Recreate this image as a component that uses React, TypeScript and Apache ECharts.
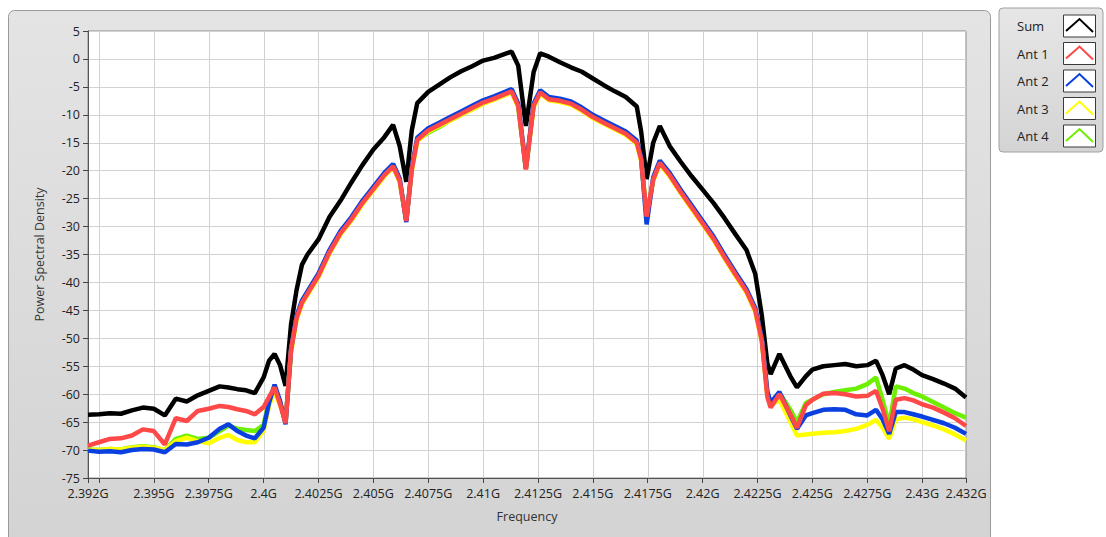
import React, { useEffect, useRef } from "react";
import * as echarts from "echarts";

// Frequency in MHz
const freqMHz = [
  2392, 2392.5, 2393, 2393.5, 2394, 2394.5, 2395, 2395.5, 2396, 2396.5, 2397, 2397.5, 2398, 2398.4, 2398.8, 2399.2, 2399.6, 2400, 2400.25, 2400.5, 2400.75, 2401, 2401.25,
  2401.5, 2401.75, 2402, 2402.5, 2403, 2403.5, 2404, 2404.5, 2405, 2405.5, 2405.9, 2406.2, 2406.5, 2406.75, 2407, 2407.5, 2408, 2408.5, 2409, 2409.5, 2410, 2410.5, 2411, 2411.3, 2411.6, 2411.95, 2412.3, 2412.6, 2413, 2413.5, 2414, 2414.5, 2415, 2415.5, 2416, 2416.5, 2417, 2417.2, 2417.45, 2417.75, 2418.05, 2418.5, 2419, 2419.5, 2420, 2420.5, 2421, 2421.5, 2422, 2422.4, 2422.7,
  2422.95, 2423.1, 2423.5, 2424, 2424.3, 2424.7, 2425, 2425.5, 2426, 2426.5, 2427, 2427.5, 2427.9, 2428.2, 2428.5, 2428.8, 2429.2, 2429.6, 2430, 2430.5, 2431, 2431.5, 2432,
];

const sumPSD = [
  -63.7, -63.6, -63.4, -63.5, -62.9, -62.4, -62.6, -63.8, -60.8, -61.3, -60.2, -59.4, -58.6, -58.8, -59.1, -59.3, -59.8, -57.0, -54.0, -52.8, -54.8, -58.5, -47.5,
  -41.4, -36.8, -35.0, -32.3, -28.3, -25.4, -22.1, -19.0, -16.2, -14.0, -11.8, -15.6, -22.0, -12.8, -7.9, -5.9, -4.6, -3.3, -2.2, -1.3, -0.3, 0.2, 0.9, 1.3, -1.2, -12.0, -2.4, 1.0, 0.4, -0.6, -1.5, -2.3, -3.5, -4.7, -5.8, -6.8, -8.5, -13.0, -21.5, -15.0, -12.0, -15.6, -18.4, -21.0, -23.4, -25.8, -28.5, -31.4, -34.2, -38.5, -46.0,
  -54.5, -56.4, -52.8, -56.8, -58.8, -56.8, -55.6, -55.0, -54.8, -54.6, -55.0, -54.8, -54.0, -56.6, -60.0, -55.4, -54.8, -55.6, -56.6, -57.3, -58.1, -59.0, -60.6,
];

const ant1PSD = [
  -69.2, -68.6, -68.0, -67.9, -67.4, -66.3, -66.6, -69.0, -64.3, -64.8, -63.0, -62.6, -62.1, -62.3, -62.7, -63.0, -63.6, -62.3, -60.5, -58.8, -61.8, -65.2, -52.0,
  -46.4, -43.6, -42.0, -38.8, -34.6, -31.2, -28.7, -25.8, -23.3, -20.8, -19.2, -21.8, -29.0, -19.8, -14.5, -12.8, -11.8, -10.8, -9.8, -8.8, -7.8, -7.1, -6.3, -5.8, -8.4, -19.8, -8.4, -6.0, -7.2, -7.5, -8.0, -9.1, -10.4, -11.4, -12.4, -13.4, -15.0, -18.0, -28.2, -21.6, -18.6, -20.8, -23.8, -26.6, -29.4, -32.2, -35.5, -38.6, -41.6, -45.0, -50.5,
  -60.5, -62.4, -60.0, -63.6, -66.0, -62.0, -61.0, -59.9, -59.8, -60.0, -60.4, -60.3, -59.4, -62.6, -66.6, -61.0, -60.7, -61.1, -61.8, -62.4, -63.3, -64.3, -65.7,
];

const ant2PSD = [
  -70.1, -70.3, -70.2, -70.4, -70.0, -69.8, -69.9, -70.4, -68.9, -69.0, -68.6, -67.8, -66.2, -65.4, -66.6, -67.4, -67.9, -66.0, -61.5, -58.3, -61.2, -65.4, -52.0,
  -46.0, -43.2, -41.6, -38.4, -34.2, -30.8, -28.3, -25.4, -22.9, -20.4, -18.8, -21.4, -29.2, -19.4, -14.1, -12.4, -11.4, -10.4, -9.4, -8.4, -7.4, -6.7, -5.9, -5.4, -8.0, -19.6, -8.0, -5.6, -6.8, -7.1, -7.6, -8.7, -10.0, -11.0, -12.0, -13.0, -14.6, -17.6, -29.6, -21.2, -18.2, -20.4, -23.4, -26.2, -29.0, -31.8, -35.1, -38.2, -41.2, -44.6, -50.0,
  -59.5, -61.5, -59.6, -63.8, -66.2, -63.8, -63.4, -62.8, -62.7, -62.8, -63.6, -63.8, -62.8, -64.5, -67.1, -63.2, -63.2, -63.6, -64.0, -64.6, -65.2, -66.0, -67.1,
];

const ant3PSD = [
  -70.0, -70.0, -69.8, -69.9, -69.6, -69.4, -69.6, -70.0, -68.4, -67.8, -68.4, -68.8, -67.8, -67.3, -68.2, -68.6, -68.6, -66.5, -62.0, -59.5, -62.0, -65.0, -52.5,
  -46.6, -43.8, -42.2, -39.0, -34.8, -31.4, -28.9, -26.0, -23.5, -21.0, -19.4, -22.0, -28.8, -20.0, -14.7, -13.0, -12.0, -11.0, -10.0, -9.0, -8.0, -7.3, -6.5, -6.0, -8.6, -19.6, -8.6, -6.2, -7.4, -7.7, -8.2, -9.3, -10.6, -11.6, -12.6, -13.6, -15.2, -18.2, -28.0, -21.8, -18.8, -21.0, -24.0, -26.8, -29.6, -32.4, -35.7, -38.8, -41.8, -45.2, -50.6,
  -60.2, -62.0, -61.0, -65.0, -67.4, -67.2, -67.1, -66.9, -66.8, -66.6, -66.2, -65.5, -64.6, -66.0, -68.0, -64.5, -64.2, -64.5, -65.0, -65.6, -66.3, -67.2, -68.3,
];

const ant4PSD = [
  -69.9, -70.0, -69.8, -69.9, -69.5, -69.3, -69.5, -70.0, -68.0, -67.4, -68.0, -67.8, -66.6, -65.6, -66.2, -66.4, -66.6, -65.5, -61.0, -58.6, -61.5, -65.0, -52.2,
  -46.5, -43.7, -42.1, -38.9, -34.7, -31.3, -28.8, -25.9, -23.4, -20.9, -19.3, -21.9, -28.9, -19.9, -14.6, -13.2, -12.2, -11.0, -10.0, -9.0, -8.0, -7.2, -6.4, -5.9, -8.5, -19.7, -8.5, -6.1, -7.3, -7.6, -8.1, -9.2, -10.5, -11.5, -12.5, -13.5, -15.1, -18.1, -28.1, -21.7, -18.7, -20.9, -23.9, -26.7, -29.5, -32.3, -35.6, -38.7, -41.7, -45.1, -50.4,
  -60.0, -61.8, -59.8, -62.8, -65.0, -61.6, -61.0, -60.0, -59.6, -59.3, -59.0, -58.2, -57.0, -61.0, -65.5, -58.6, -59.0, -59.8, -60.4, -61.4, -62.4, -63.4, -64.2,
];

const xMin = 2392;
const xMax = 2432;
const xTickValues = [2392, 2392.5, 2395, 2397.5, 2400, 2402.5, 2405, 2407.5, 2410, 2412.5, 2415, 2417.5, 2420, 2422.5, 2425, 2427.5, 2430, 2432];
const xLabelValues = [2392, 2395, 2397.5, 2400, 2402.5, 2405, 2407.5, 2410, 2412.5, 2415, 2417.5, 2420, 2422.5, 2425, 2427.5, 2430, 2432];
const xGridValues = [2392.5, 2395, 2397.5, 2400, 2402.5, 2405, 2407.5, 2410, 2412.5, 2415, 2417.5, 2420, 2422.5, 2425, 2427.5, 2430];
const yMin = -75;
const yMax = 5;

const seriesNames = ["Sum", "Ant 1", "Ant 2", "Ant 3", "Ant 4"];
const seriesColors = ["#000000", "#ff4848", "#0a40e0", "#ffff00", "#6cf000"];
const seriesValues = [sumPSD, ant1PSD, ant2PSD, ant3PSD, ant4PSD];

const FONT = "'Open Sans', 'Noto Sans', sans-serif";
const GRID_COLOR = "#d2d2d2";

const GRID_LEFT = 88;
const GRID_TOP = 31;
const GRID_RIGHT = 140;
const GRID_BOTTOM = 59;
const W = 1106;
const H = 537;

export default function App() {
  const ref = useRef<HTMLDivElement>(null);
  useEffect(() => {
    if (!ref.current) return;
    const chart = echarts.init(ref.current, undefined, { renderer: "svg" });

    const drawOrder = [0, 4, 3, 2, 1];

    // vertical grid lines every 2.5 MHz, drawn through the axis scale
    const vGridSeries = {
      type: "custom",
      name: "vgrid",
      silent: true,
      z: 1,
      clip: false,
      data: xGridValues.map((v) => [v]),
      encode: { x: 0 },
      renderItem: (_params: any, api: any) => {
        const top = api.coord([api.value(0), yMax]);
        const bottom = api.coord([api.value(0), yMin]);
        const x = Math.round(top[0]) + 0.5;
        return {
          type: "line",
          shape: { x1: x, y1: top[1], x2: x, y2: bottom[1] },
          style: { stroke: GRID_COLOR, lineWidth: 1 },
          silent: true,
        };
      },
    };

    const series: any[] = [
      vGridSeries,
      ...drawOrder.map((i) => ({
        name: seriesNames[i],
        type: "line",
        symbol: "none",
        silent: true,
        z: 2,
        data: freqMHz.map((f, k) => [f, seriesValues[i][k]]),
        lineStyle: { color: seriesColors[i], width: 4.5 },
        itemStyle: { color: seriesColors[i] },
      })),
    ];

    const legendRowY = [26, 53.5, 81, 108.5, 136];
    const legendEls: any[] = [
      {
        type: "rect",
        shape: { x: 999, y: 8, width: 104, height: 144, r: 4 },
        style: {
          fill: new echarts.graphic.LinearGradient(0, 0, 0, 1, [
            { offset: 0, color: "#e6e6e6" },
            { offset: 1, color: "#d4d4d4" },
          ]),
          stroke: "#a0a0a0",
          lineWidth: 1,
        },
        z: -10,
      },
    ];
    seriesNames.forEach((n, i) => {
      const c = legendRowY[i];
      legendEls.push({
        type: "text",
        x: 1017,
        y: c,
        style: { text: n, fill: "#222", font: `13px ${FONT}`, textVerticalAlign: "middle" },
      });
      legendEls.push({
        type: "rect",
        shape: { x: 1063.5, y: c - 11, width: 32, height: 22 },
        style: { fill: "#ffffff", stroke: "#3a3a3a", lineWidth: 1 },
      });
      legendEls.push({
        type: "polyline",
        shape: { points: [[1066, c + 5], [1079.5, c - 7], [1093, c + 6]] },
        style: { stroke: seriesColors[i], lineWidth: 2, fill: "none" },
      });
    });

    chart.setOption({
      animation: false,
      backgroundColor: "#ffffff",
      graphic: [
        {
          type: "rect",
          shape: { x: 8.5, y: 10.5, width: 982, height: 540, r: 6 },
          style: {
            fill: new echarts.graphic.LinearGradient(0, 0, 0, 1, [
              { offset: 0, color: "#e4e4e4" },
              { offset: 1, color: "#d3d3d3" },
            ]),
            stroke: "#9a9a9a",
            lineWidth: 1,
          },
          z: -100,
        },
        {
          type: "rect",
          shape: {
            x: GRID_LEFT,
            y: GRID_TOP,
            width: W - GRID_LEFT - GRID_RIGHT,
            height: H - GRID_TOP - GRID_BOTTOM,
          },
          style: { fill: "#ffffff" },
          z: -50,
        },
        ...legendEls,
      ],
      grid: {
        left: GRID_LEFT,
        top: GRID_TOP,
        right: GRID_RIGHT,
        bottom: GRID_BOTTOM,
        show: true,
        backgroundColor: "transparent",
        borderColor: "#8a8a8a",
        borderWidth: 1,
      },
      xAxis: {
        type: "value",
        min: xMin,
        max: xMax,
        name: "Frequency",
        nameLocation: "middle",
        nameGap: 32,
        nameTextStyle: { color: "#333", fontSize: 12.5, fontFamily: FONT },
        axisLine: { show: true, onZero: false, lineStyle: { color: "#555" } },
        axisTick: { show: true, customValues: xTickValues, length: 5, lineStyle: { color: "#444" } },
        axisLabel: {
          customValues: xLabelValues,
          color: "#222",
          fontSize: 12.5,
          lineHeight: 13,
          fontFamily: FONT,
          margin: 9,
          showMinLabel: true,
          showMaxLabel: true,
          hideOverlap: false,
          formatter: (v: number) => parseFloat((v / 1000).toFixed(4)) + "G",
        },
        splitLine: { show: false },
      },
      yAxis: {
        type: "value",
        min: yMin,
        max: yMax,
        interval: 5,
        name: "Power Spectral Density",
        nameLocation: "middle",
        nameGap: 42,
        nameTextStyle: { color: "#333", fontSize: 12.5, fontFamily: FONT },
        axisLine: { show: true, onZero: false, lineStyle: { color: "#555" } },
        axisTick: { show: true, length: 5, lineStyle: { color: "#444" } },
        axisLabel: { color: "#222", fontSize: 12.5, lineHeight: 13, fontFamily: FONT, margin: 8 },
        splitLine: { show: true, lineStyle: { color: GRID_COLOR, width: 1 } },
      },
      series,
    });

    return () => chart.dispose();
  }, []);

  return (
    <div
      ref={ref}
      style={{ position: "absolute", left: 0, top: 0, width: W, height: H }}
    />
  );
}
